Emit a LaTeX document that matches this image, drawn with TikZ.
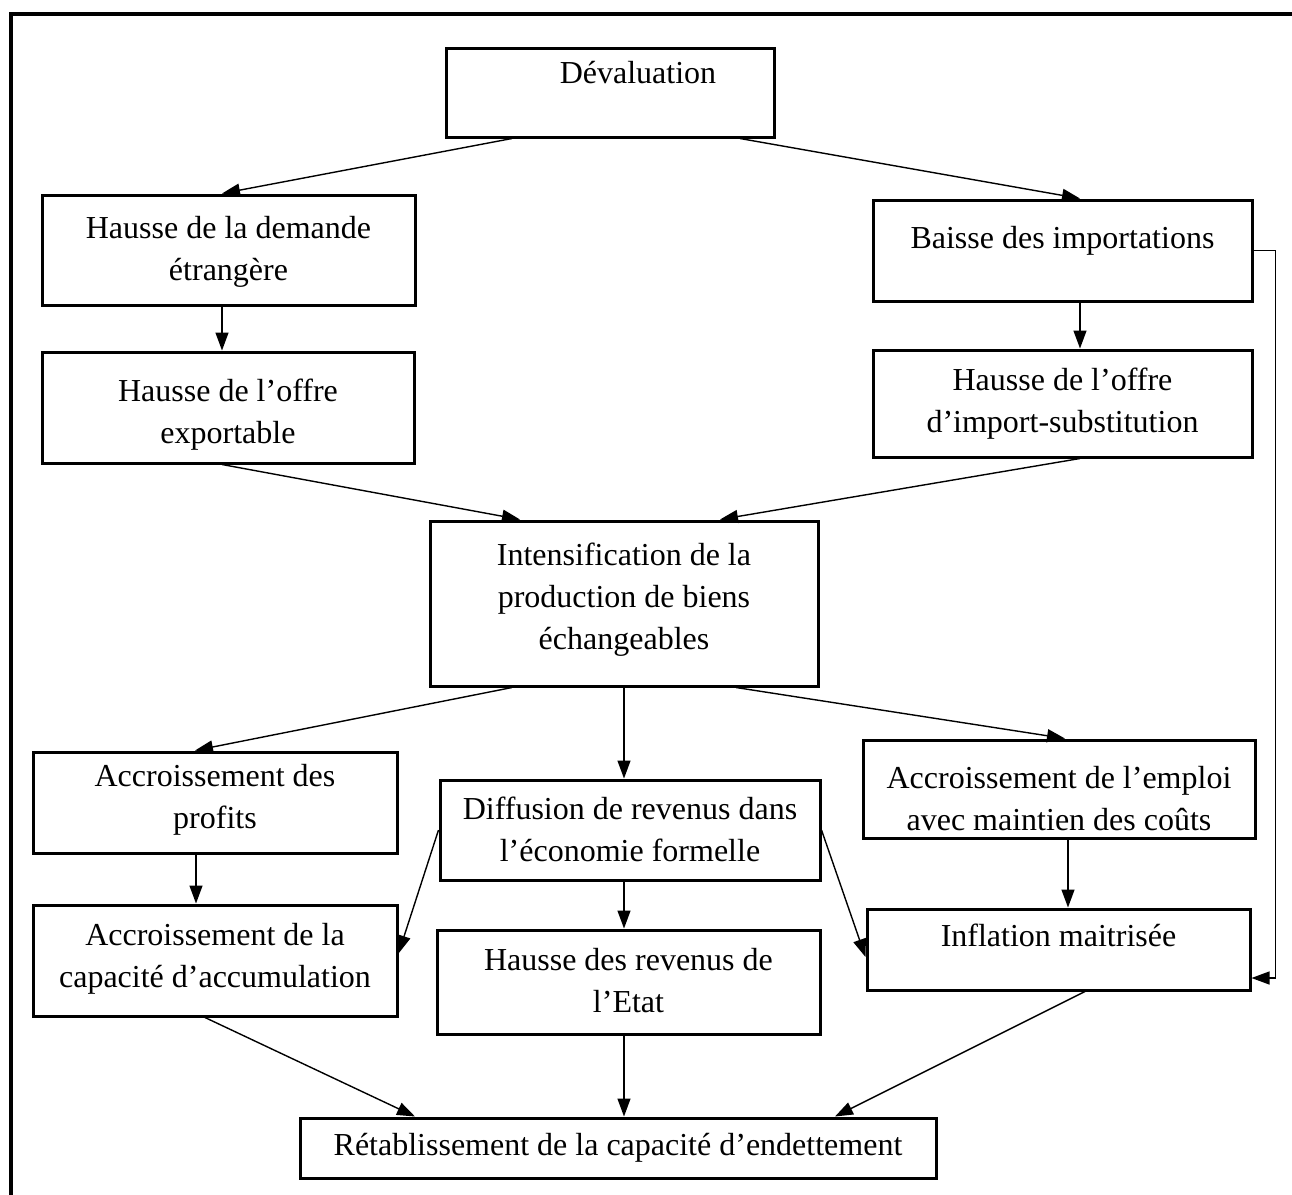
\documentclass[tikz,border=0pt]{standalone}
\usepackage{fontspec}
\setmainfont{Liberation Serif}
\usetikzlibrary{arrows.meta,calc}

% box content: width, height, top padding, text (top aligned, centred)
\newcommand{\boxtext}[4]{\parbox[c][#2][t]{#1}{\centering\vspace*{#3}\strut #4}}

\tikzset{
  x=0.5pt, y=-0.5pt,
  stagebox/.style={draw, line width=1.5pt, inner sep=0pt, fill=white,
                   font=\fontsize{16pt}{21pt}\selectfont},
  link/.style={line width=0.7pt, -{Triangle[length=9pt,width=6.5pt]}},
  frame/.style={line width=1.8pt}
}

\begin{document}
\begin{tikzpicture}
\useasboundingbox (0,0) rectangle (1292,1195);
\draw[frame] (11,1195) -- (11,14) -- (1292,14);

\node[stagebox] (dev) at (610,92.5) {\boxtext{164pt}{44.5pt}{3pt}{\hspace*{28pt}Dévaluation}};
\node[stagebox] (dem) at (228.5,250) {\boxtext{186.5pt}{55pt}{7pt}{Hausse de la demande\\ étrangère}};
\node[stagebox] (bai) at (1062.5,250.5) {\boxtext{189.5pt}{50.5pt}{9.5pt}{Baisse des importations}};
\node[stagebox] (exp) at (228,407.5) {\boxtext{186pt}{55.5pt}{10pt}{Hausse de l’offre\\ exportable}};
\node[stagebox] (imp) at (1062.5,403.5) {\boxtext{189.5pt}{53.5pt}{5.5pt}{Hausse de l’offre\\ d’import-substitution}};
\node[stagebox] (int) at (624,603.5) {\boxtext{194pt}{82.5pt}{7.5pt}{Intensification de la\\ production de biens\\ échangeables}};
\node[stagebox] (pro) at (215,802.5) {\boxtext{182pt}{50.5pt}{2.5pt}{Accroissement des\\ profits}};
\node[stagebox] (dif) at (630,830) {\boxtext{190pt}{50pt}{5pt}{Diffusion de revenus dans\\ l’économie formelle}};
\node[stagebox] (emp) at (1059,789) {\boxtext{196pt}{49pt}{9.5pt}{Accroissement de l’emploi\\ avec maintien des coûts}};
\node[stagebox] (acc) at (215,960.5) {\boxtext{182pt}{55.5pt}{5.5pt}{Accroissement de la\\ capacité d’accumulation}};
\node[stagebox] (eta) at (628.5,982) {\boxtext{191.5pt}{52pt}{5.5pt}{Hausse des revenus de\\ l’Etat}};
\node[stagebox] (inf) at (1058.5,949.5) {\boxtext{191.5pt}{40.5pt}{4pt}{Inflation maitrisée}};
\node[stagebox] (ret) at (618,1148) {\boxtext{318pt}{30pt}{4pt}{Rétablissement de la capacité d’endettement}};

% first level
\draw[link] ($(dev.south)+(-98,0)$) -- ($(dem.north)+(-6.5,0)$);
\draw[link] ($(dev.south)+(130,0)$) -- ($(bai.north)+(17.5,0)$);
\draw[link] ($(dem.south)+(-6.5,0)$) -- ($(exp.north)+(-6,0)$);
\draw[link] ($(bai.south)+(17.5,0)$) -- ($(imp.north)+(17.5,0)$);
\draw[link] ($(exp.south)+(-6,0)$) -- ($(int.north)+(-104,0)$);
\draw[link] ($(imp.south)+(17.5,0)$) -- ($(int.north)+(96,0)$);

% second level
\draw[link] ($(int.south)+(-112,0)$) -- ($(pro.north)+(-20,0)$);
\draw[link] (int.south) -- ($(dif.north)+(-6,0)$);
\draw[link] ($(int.south)+(112,0)$) -- ($(emp.north)+(6,0)$);
\draw[link] ($(pro.south)+(-19,0)$) -- ($(acc.north)+(-19,0)$);
\draw[link] (dif.west) -- ($(acc.east)+(0,-7)$);
\draw[link] ($(dif.south)+(-6,0)$) -- ($(eta.north)+(-4.5,0)$);
\draw[link] (dif.east) -- ($(inf.west)+(0,7.5)$);
\draw[link] ($(emp.south)+(9,0)$) -- ($(inf.north)+(9.5,0)$);
\draw[link] (bai.east) -- ++(22,0) |- ($(inf.east)+(0,28.5)$);

% last level
\draw[link] ($(acc.south)+(-10,0)$) -- ($(ret.north)+(-203,0)$);
\draw[link] ($(eta.south)+(-4.5,0)$) -- ($(ret.north)+(6,0)$);
\draw[link] ($(inf.south)+(26.5,0)$) -- ($(ret.north)+(217,0)$);
\end{tikzpicture}
\end{document}
